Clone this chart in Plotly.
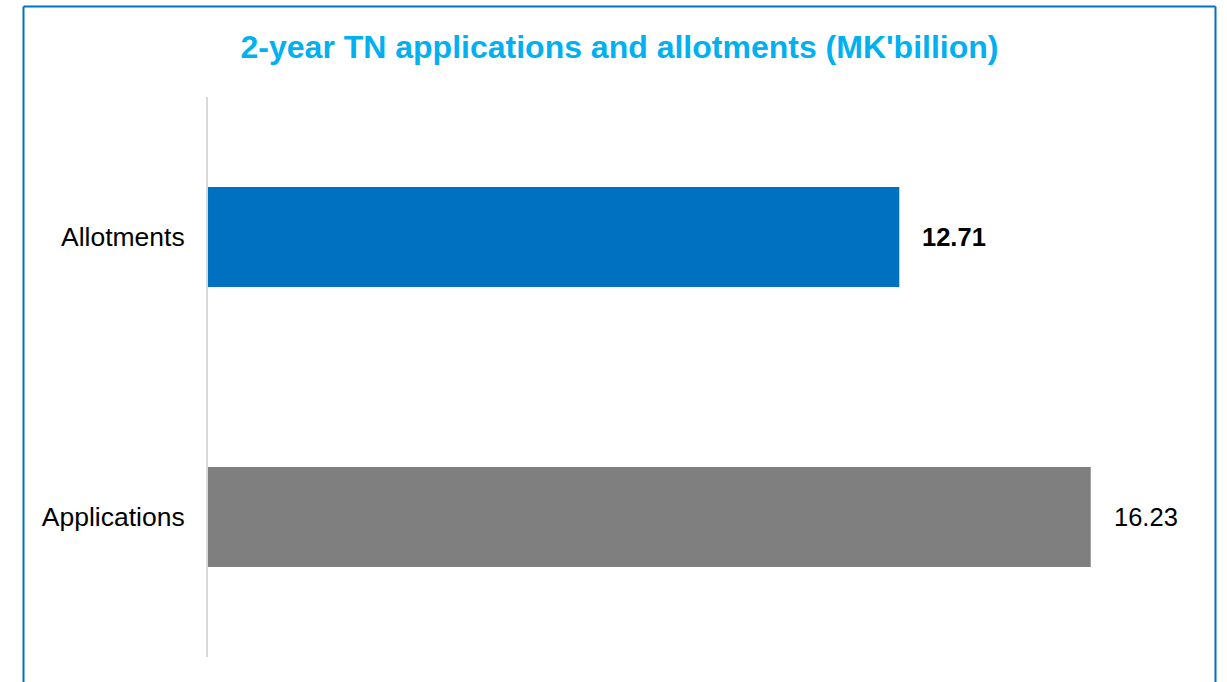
import plotly.graph_objects as go

categories = ["Applications", "Allotments"]
values = [16.23, 12.71]
bar_colors = ["#7F7F7F", "#0070C0"]
label_bold = [False, True]
title_text = "2-year TN applications and allotments (MK'billion)"

W, H = 1227, 682
ML, MR, MT, MB = 208, 40, 97, 25
pw = W - ML - MR
ph = H - MT - MB

def px_x(p):
    return (p - ML) / pw

def px_y(p):
    return (H - MB - p) / ph

fig = go.Figure()
fig.add_trace(go.Bar(
    y=categories, x=values, orientation="h",
    marker=dict(color=bar_colors, line=dict(width=0)),
    width=0.357, hoverinfo="skip",
))

for c, v, b in zip(categories, values, label_bold):
    fig.add_annotation(
        x=v, y=c, xref="x", yref="y",
        text=f"<b>{v:.2f}</b>" if b else f"{v:.2f}",
        showarrow=False, xanchor="left", yanchor="middle", xshift=21,
        font=dict(family="Liberation Sans, Arial, sans-serif", size=25.5, color="#000000"),
    )

# outer border (top, left, right)
bc = "#0070C0"
fig.add_shape(type="line", xref="paper", yref="paper",
              x0=px_x(23.5), x1=px_x(1215.5), y0=px_y(6.5), y1=px_y(6.5),
              line=dict(color=bc, width=2))
fig.add_shape(type="line", xref="paper", yref="paper",
              x0=px_x(23.5), x1=px_x(23.5), y0=px_y(6.5), y1=px_y(700),
              line=dict(color=bc, width=2))
fig.add_shape(type="line", xref="paper", yref="paper",
              x0=px_x(1215.5), x1=px_x(1215.5), y0=px_y(6.5), y1=px_y(700),
              line=dict(color=bc, width=2))

fig.update_layout(
    width=W, height=H,
    margin=dict(l=ML, r=MR, t=MT, b=MB, pad=0),
    paper_bgcolor="white", plot_bgcolor="white",
    showlegend=False,
    title=dict(
        text=f"<b>{title_text}</b>",
        x=619.5 / W, xanchor="center", xref="container",
        y=1 - 47 / H, yanchor="middle", yref="container",
        font=dict(family="Liberation Sans, Arial, sans-serif", size=32, color="#00B0F0"),
    ),
    xaxis=dict(range=[0, 18], visible=False, fixedrange=True),
    yaxis=dict(
        showline=True, linecolor="#D9D9D9", linewidth=2,
        showgrid=False, zeroline=False, ticks="",
        ticklabelstandoff=16,
        tickfont=dict(family="Liberation Sans, Arial, sans-serif", size=26.5, color="#000000"),
        categoryorder="array", categoryarray=categories,
        range=[-0.5, 1.5],
    ),
)

fig.write_html("out.html", config={"displayModeBar": False})
